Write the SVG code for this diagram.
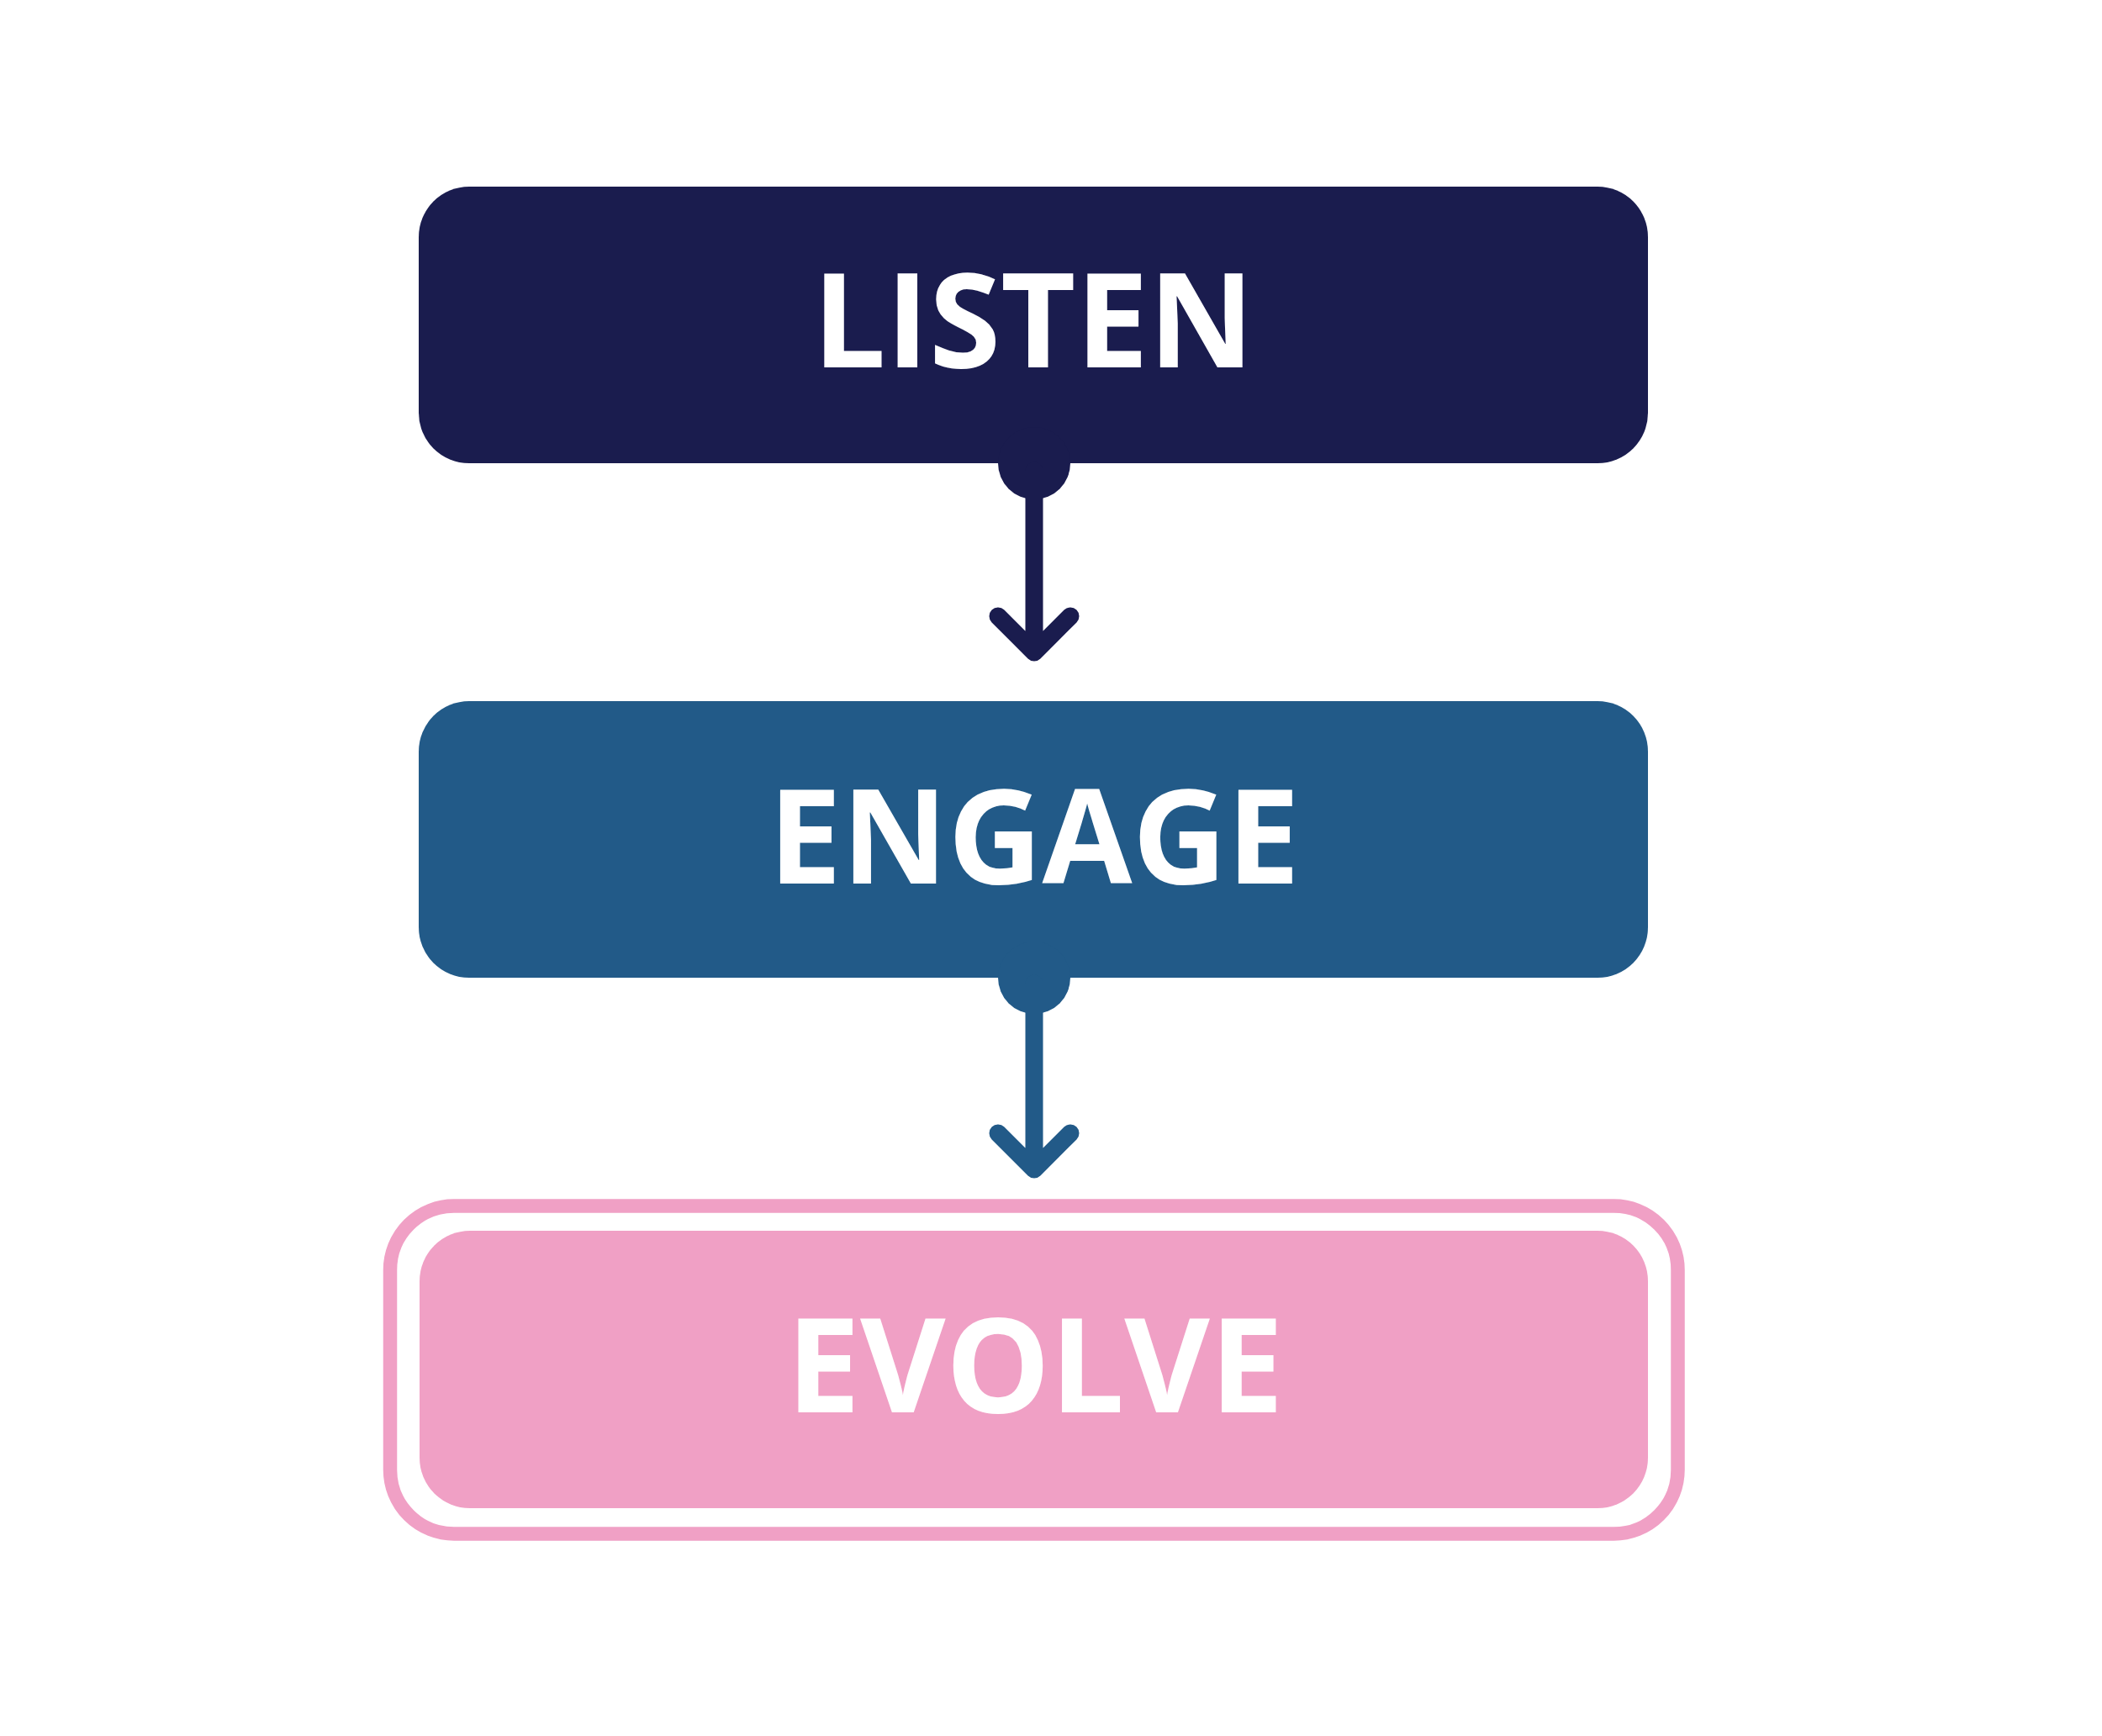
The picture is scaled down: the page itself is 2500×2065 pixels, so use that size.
<svg xmlns="http://www.w3.org/2000/svg" width="2500" height="2065" viewBox="0 0 2500 2065">
<style>
.lbl{font-family:"Open Sans","Liberation Sans",sans-serif;font-weight:700;font-size:157px;fill:#ffffff;text-anchor:middle}
.conn{fill:none;stroke-width:21;stroke-linecap:round;stroke-linejoin:round}
</style>
<rect width="2500" height="2065" fill="#ffffff"/>
<g id="listen">
<rect x="498" y="222" width="1462" height="329" rx="60" fill="#1A1C4E"/>
<text class="lbl" x="1229" y="437" textLength="525" lengthAdjust="spacingAndGlyphs">LISTEN</text>
</g>
<g id="engage">
<rect x="498" y="834" width="1462" height="329" rx="60" fill="#225A88"/>
<text class="lbl" x="1230" y="1051" textLength="632" lengthAdjust="spacingAndGlyphs">ENGAGE</text>
</g>
<g id="evolve">
<rect x="464" y="1434.5" width="1531.5" height="390" rx="76" fill="none" stroke="#F0A0C5" stroke-width="16.5"/>
<rect x="499" y="1464" width="1461" height="330" rx="60" fill="#F0A0C5"/>
<text class="lbl" x="1231" y="1680" textLength="591" lengthAdjust="spacingAndGlyphs">EVOLVE</text>
</g>
<g id="connectors">
<g id="c1">
<circle cx="1230" cy="551" r="43" fill="#1A1C4E"/>
<path class="conn" stroke="#1A1C4E" d="M1230 560 V770 M1187 733 L1230 776 L1273 733"/>
</g>
<g id="c2">
<circle cx="1230" cy="1163" r="43" fill="#225A88"/>
<path class="conn" stroke="#225A88" d="M1230 1170 V1385 M1187 1348 L1230 1391 L1273 1348"/>
</g>
</g>
</svg>
